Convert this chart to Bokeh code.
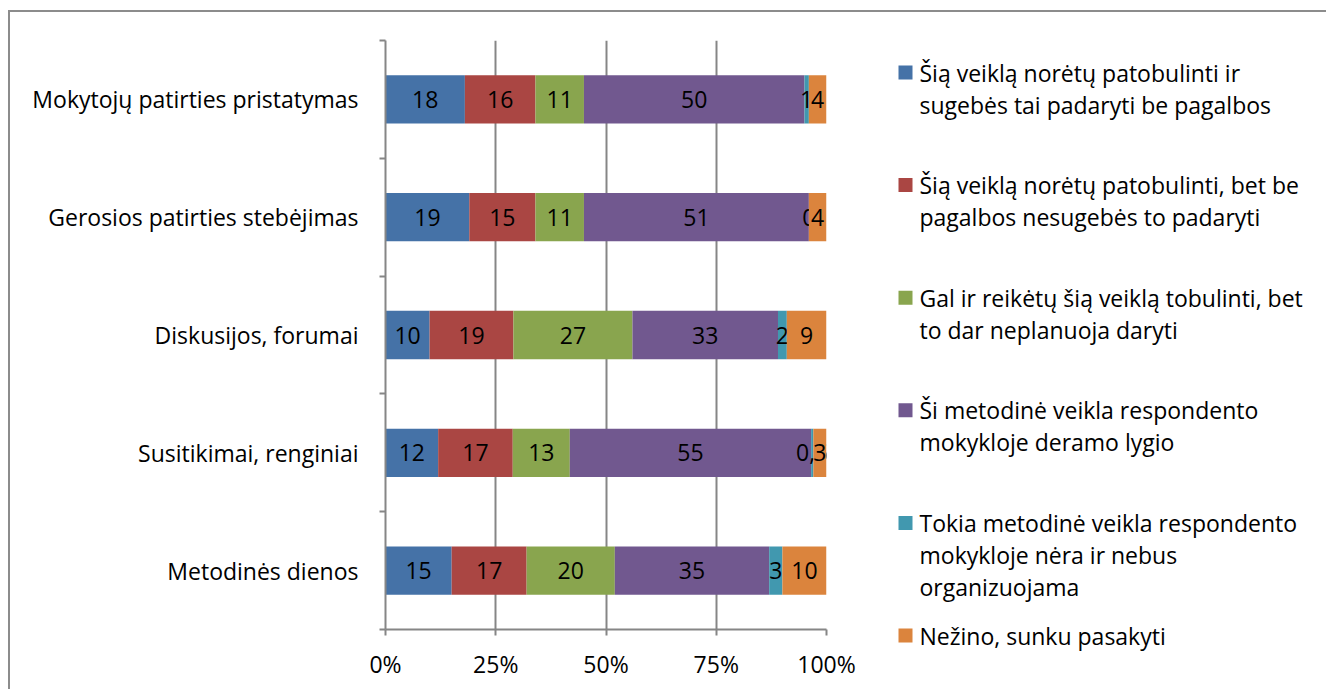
from bokeh.plotting import figure
from bokeh.models import FixedTicker, Range1d
from bokeh.layouts import row
from bokeh.core.properties import value
from bokeh.embed import file_html
from bokeh.resources import INLINE

categories = ["Mokytojų patirties pristatymas", "Gerosios patirties stebėjimas",
              "Diskusijos, forumai", "Susitikimai, renginiai", "Metodinės dienos"]
series_names = [
    "Šią veiklą norėtų patobulinti ir\nsugebės tai padaryti be pagalbos",
    "Šią veiklą norėtų patobulinti, bet be\npagalbos nesugebės to padaryti",
    "Gal ir reikėtų šią veiklą tobulinti, bet\nto dar neplanuoja daryti",
    "Ši metodinė veikla respondento\nmokykloje deramo lygio",
    "Tokia metodinė veikla respondento\nmokykloje nėra ir nebus\norganizuojama",
    "Nežino, sunku pasakyti",
]
s1 = [18, 19, 10, 12, 15]
s2 = [16, 15, 19, 17, 17]
s3 = [11, 11, 27, 13, 20]
s4 = [50, 51, 33, 55, 35]
s5 = [1, 0, 2, 0.5, 3]
s6 = [4, 4, 9, 3, 10]
series = [s1, s2, s3, s4, s5, s6]
colors = ["#4572A7", "#AA4643", "#89A54E", "#71588F", "#4198AF", "#DB843D"]
x_ticks = [0, 25, 50, 75, 100]
x_tick_labels = ["0%", "25%", "50%", "75%", "100%"]

FONT = "Open Sans"
FS = "23px"
AX = "#868686"

n = len(categories)
ys = [n - 0.5 - i for i in range(n)]
totals = [sum(s[i] for s in series) for i in range(n)]

H = 677
p = figure(width=846, height=H, output_backend="svg", toolbar_location=None,
           x_range=Range1d(0, 100), y_range=Range1d(0, n),
           min_border_left=375, min_border_right=30, min_border_top=28, min_border_bottom=60)
p.outline_line_color = None
p.background_fill_color = "white"
p.border_fill_color = "white"

cum = [0.0] * n
for j, s in enumerate(series):
    left = [cum[i] / totals[i] * 100 for i in range(n)]
    right = [(cum[i] + s[i]) / totals[i] * 100 for i in range(n)]
    p.hbar(y=ys, left=left, right=right, height=0.41, fill_color=colors[j], line_color=None)
    centers = [(l + r) / 2 for l, r in zip(left, right)]
    texts = [(str(int(v)) if float(v).is_integer() else str(v).replace(".", ",")) for v in s]
    p.text(x=centers, y=ys, text=texts, text_align="center", text_baseline="middle",
           text_font=value(FONT), text_font_size=FS, text_color="black")
    cum = [cum[i] + s[i] for i in range(n)]

# x axis
p.xaxis.ticker = FixedTicker(ticks=x_ticks)
p.xaxis.major_label_overrides = {t: l for t, l in zip(x_ticks, x_tick_labels)}
p.xaxis.major_tick_out = 6
p.xaxis.major_tick_in = 0
p.xaxis.minor_tick_line_color = None
p.xaxis.axis_line_color = AX
p.xaxis.axis_line_width = 2
p.xaxis.major_tick_line_color = AX
p.xaxis.major_tick_line_width = 2
p.xaxis.major_label_standoff = 12
p.xaxis.major_label_text_font = FONT
p.xaxis.major_label_text_font_size = FS
p.xaxis.major_label_text_color = "black"

# y axis
p.yaxis.ticker = FixedTicker(ticks=ys, minor_ticks=list(range(n + 1)))
p.yaxis.major_label_overrides = {y: c for y, c in zip(ys, categories)}
p.yaxis.major_tick_out = 0
p.yaxis.major_tick_in = 0
p.yaxis.major_tick_line_color = None
p.yaxis.minor_tick_out = 6
p.yaxis.minor_tick_in = 0
p.yaxis.minor_tick_line_color = AX
p.yaxis.minor_tick_line_width = 2
p.yaxis.axis_line_color = AX
p.yaxis.axis_line_width = 2
p.yaxis.major_label_standoff = 21
p.yaxis.major_label_text_font = FONT
p.yaxis.major_label_text_font_size = FS
p.yaxis.major_label_text_color = "black"

p.xgrid.ticker = FixedTicker(ticks=x_ticks[1:])
p.xgrid.grid_line_color = AX
p.xgrid.grid_line_width = 2
p.ygrid.visible = False

# legend panel (coordinates in page pixels)
q = figure(width=470, height=H, output_backend="svg", toolbar_location=None,
           x_range=Range1d(856, 1326), y_range=Range1d(689, 12),
           min_border_left=0, min_border_right=0, min_border_top=0, min_border_bottom=0)
q.axis.visible = False
q.grid.visible = False
q.outline_line_color = None
q.background_fill_color = "white"
q.border_fill_color = "white"
for fig in (p, q):
    if "frame_align" in fig.properties():
        fig.frame_align = False

sq_y, txt_x, txt_y, txt = [], [], [], []
for k, name in enumerate(series_names):
    top_line = 72 + 112.6 * k
    sq_y.append(top_line)
    for m, line in enumerate(name.split("\n")):
        txt_x.append(919)
        txt_y.append(top_line + 32 * m)
        txt.append(line)
q.rect(x=[905] * len(sq_y), y=sq_y, width=14, height=14, fill_color=colors, line_color=None)
q.text(x=txt_x, y=txt_y, text=txt, text_align="left", text_baseline="middle",
       text_font=value(FONT), text_font_size=FS, text_color="black")

layout = row(p, q, spacing=0,
             styles={"margin-left": "8px", "margin-top": "10px",
                     "border-left": "2px solid #8c8c8c", "border-top": "2px solid #8c8c8c"})

open("out.html", "w").write(file_html(layout, INLINE))
